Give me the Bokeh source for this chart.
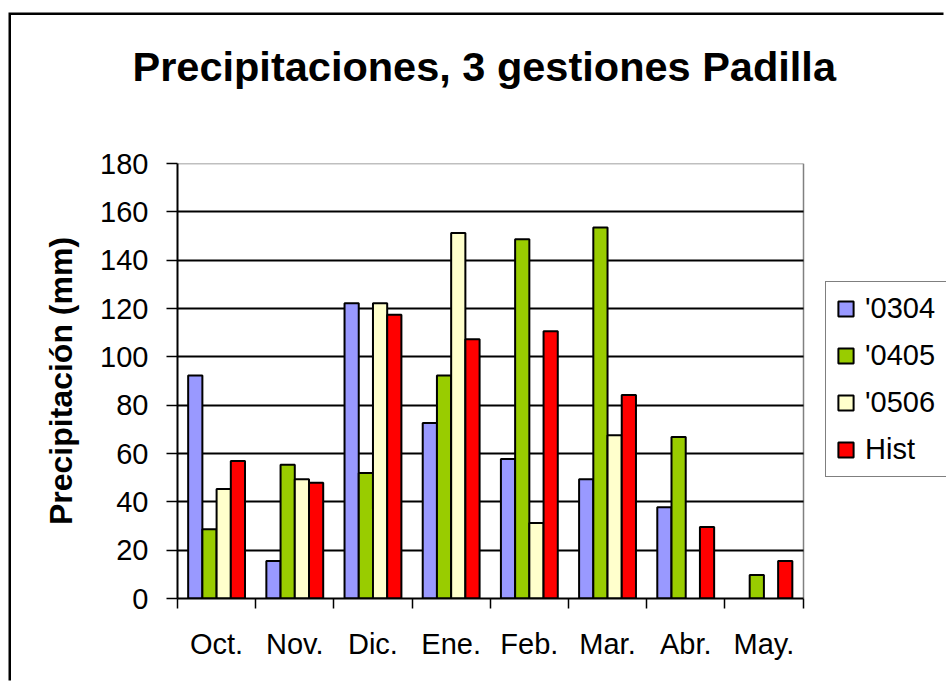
import math
from bokeh.plotting import figure
from bokeh.models import (ColumnDataSource, FixedTicker, Range1d, Legend, LegendItem, Grid,
                          LinearAxis)
from bokeh.transform import dodge
from bokeh.embed import file_html
from bokeh.resources import INLINE

NaN = float("nan")

months = ["Oct.", "Nov.", "Dic.", "Ene.", "Feb.", "Mar.", "Abr.", "May."]
series_names = ["'0304", "'0405", "'0506", "Hist"]
v0304 = [92.3, 15.5, 122.2, 72.6, 57.7, 49.4, 37.8, NaN]
v0405 = [28.7, 55.4, 51.9, 92.3, 148.7, 153.6, 66.8, 9.7]
v0506 = [45.3, 49.4, 122.2, 151.3, 31.2, 67.6, NaN, NaN]
hist = [56.9, 47.9, 117.4, 107.3, 110.6, 84.2, 29.6, 15.5]
y_ticks = [0, 20, 40, 60, 80, 100, 120, 140, 160, 180]
colors = ["#9999FF", "#99CC00", "#FFFFCC", "#FF0000"]

FONT = "Liberation Sans"

# layout (pixels)
W, H = 935, 668
B_LEFT, B_TOP, B_BOTTOM = 166, 148, 85
PLOT_W = 625.5                      # width of the bar area
frame_w = W - B_LEFT
n = len(months)
x_lo, x_hi = -0.5, n - 0.5
y_lo, y_hi = 0, y_ticks[-1]
x_end = x_lo + (x_hi - x_lo) * frame_w / PLOT_W

p = figure(width=W, height=H, output_backend="svg", toolbar_location=None, tools="",
           x_range=Range1d(x_lo, x_end), y_range=Range1d(y_lo, y_hi + 0.05),
           min_border_left=B_LEFT, min_border_right=0, min_border_top=B_TOP,
           min_border_bottom=B_BOTTOM,
           styles={"margin-left": "11px", "margin-top": "15px",
                   "box-shadow": "-2.5px -2.5px 0px 0px black"})
p.background_fill_color = "white"
p.border_fill_color = "white"
p.outline_line_color = None

idx = list(range(n))
source = ColumnDataSource(dict(x=idx, s0=v0304, s1=v0405, s2=v0506, s3=hist))

bw = 1 / 5.5
items = []
for k, (name, col) in enumerate(zip(series_names, colors)):
    r = p.vbar(x=dodge("x", (k - 1.5) * bw), top="s%d" % k, width=bw, bottom=0, source=source,
               fill_color=col, line_color="black", line_width=2)
    items.append(LegendItem(label=name, renderers=[r]))

# x axis
p.xaxis.ticker = FixedTicker(ticks=idx, minor_ticks=[i - 0.5 for i in range(n + 1)])
p.xaxis.major_label_overrides = {i: m for i, m in enumerate(months)}
p.xaxis.bounds = (x_lo, x_hi)
p.xaxis.major_tick_out = 0
p.xaxis.major_tick_in = 0
p.xaxis.minor_tick_out = 10
p.xaxis.minor_tick_in = 0
p.xaxis.minor_tick_line_color = "black"
p.xaxis.minor_tick_line_width = 1.5
p.xaxis.major_label_standoff = 19
p.xaxis.major_label_text_font = FONT
p.xaxis.major_label_text_font_size = "29px"
p.xaxis.major_label_text_color = "black"
p.xaxis.axis_line_color = "black"
p.xaxis.axis_line_width = 2

# y axis
p.yaxis.ticker = FixedTicker(ticks=y_ticks, minor_ticks=[])
p.yaxis.bounds = (y_lo, y_hi)
p.yaxis.major_tick_out = 11
p.yaxis.major_tick_in = 0
p.yaxis.major_tick_line_color = "black"
p.yaxis.major_tick_line_width = 1.5
p.yaxis.minor_tick_line_color = None
p.yaxis.major_label_standoff = 18
p.yaxis.major_label_text_font = FONT
p.yaxis.major_label_text_font_size = "29px"
p.yaxis.major_label_text_color = "black"
p.yaxis.axis_line_color = "black"
p.yaxis.axis_line_width = 2
p.yaxis.axis_label = "Precipitación (mm)"
p.yaxis.axis_label_text_font = FONT
p.yaxis.axis_label_text_font_size = "32px"
p.yaxis.axis_label_text_font_style = "bold"
p.yaxis.axis_label_text_color = "black"
p.yaxis.axis_label_standoff = 18

# empty spacer band between the title and the plot area
spacer_tick = 9
spacer = LinearAxis(ticker=FixedTicker(ticks=[spacer_tick], minor_ticks=[]),
                    major_label_overrides={spacer_tick: ""},
                    axis_line_color=None, major_tick_line_color=None,
                    minor_tick_line_color=None,
                    major_tick_out=68, major_tick_in=0, minor_tick_out=0, minor_tick_in=0,
                    major_label_standoff=0, major_label_text_font_size="1px")
p.add_layout(spacer, "above")

# grid
p.xgrid.ticker = FixedTicker(ticks=[x_hi])
p.xgrid.cross_bounds = (y_lo, y_hi)
p.xgrid.grid_line_color = "#808080"
p.xgrid.grid_line_width = 1.5
p.ygrid.ticker = FixedTicker(ticks=y_ticks[1:-1])
p.ygrid.cross_bounds = (x_lo, x_hi)
p.ygrid.grid_line_color = "black"
p.ygrid.grid_line_width = 2
top_grid = Grid(dimension=1, ticker=FixedTicker(ticks=[y_hi]), cross_bounds=(x_lo, x_hi),
                grid_line_color="#808080", grid_line_width=1.5)
p.add_layout(top_grid)

# legend
lg = Legend(items=items, location=(648, 121))
lg.border_line_color = "black"
lg.border_line_width = 1.5
lg.background_fill_color = "white"
lg.background_fill_alpha = 1
lg.label_text_font = FONT
lg.label_text_font_size = "29px"
lg.label_text_color = "black"
lg.label_width = 80
lg.glyph_width = 19
lg.glyph_height = 19
lg.label_standoff = 10
lg.padding = 10
lg.spacing = 14
lg.margin = 0
p.add_layout(lg)

# title
p.title.text = "Precipitaciones, 3 gestiones Padilla"
p.title.text_font = FONT
p.title.text_font_size = "41.5px"
p.title.text_font_style = "bold"
p.title.text_color = "black"
p.title.align = "left"
p.title.offset = -45
p.title.vertical_align = "bottom"
p.title.standoff = 11

open("out.html", "w").write(file_html(p, INLINE))
